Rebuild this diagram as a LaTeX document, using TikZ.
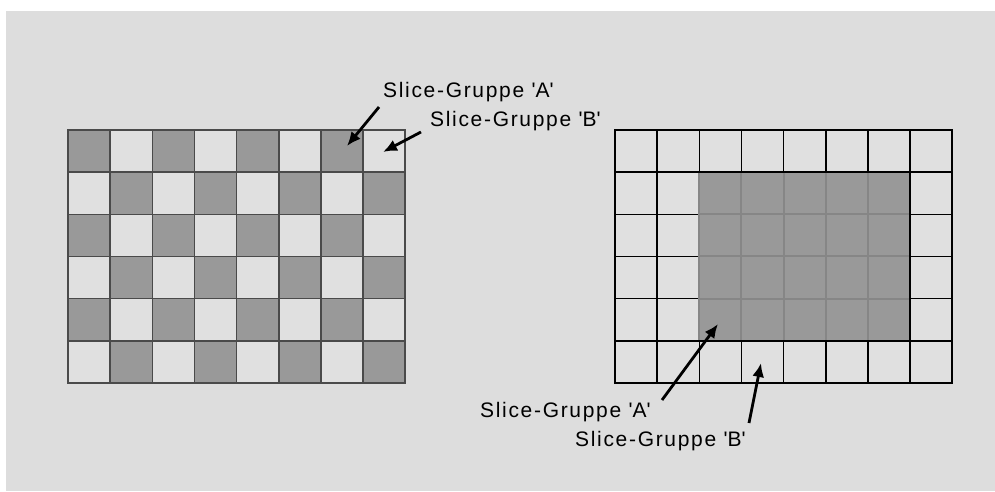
\documentclass[tikz,border=0pt]{standalone}
\usepackage{fontspec}
\setmainfont[LetterSpace=8]{Liberation Sans}
\usetikzlibrary{arrows.meta}
\definecolor{bg}{HTML}{DDDDDD}
\definecolor{cellA}{HTML}{999999}
\definecolor{cellB}{HTML}{E0E0E0}
\definecolor{gridL}{HTML}{4A4A4A}
\definecolor{gridI}{HTML}{868686}
\newcommand{\sq}{\textquotesingle}
\begin{document}
\begin{tikzpicture}[x=1pt,y=-1pt,
  lbl/.style={font=\fontsize{21}{24}\selectfont, inner sep=0pt, anchor=west},
  arr/.style={line width=2.8pt, -{Latex[length=14pt,width=12pt]}},
  gline/.style={line width=1.6pt, line cap=rect},
  iline/.style={line width=2.0pt, gridI}]
\def\cs{42.15}
\useasboundingbox (0,0) rectangle (995,491);
\fill[white] (0,0) rectangle (995,491);
\fill[bg] (6,11) rectangle (995,491);
% left grid: checkerboard
\foreach \i in {0,...,7}{\foreach \j in {0,...,5}{
  \pgfmathtruncatemacro\p{mod(\i+\j,2)}
  \ifnum\p=0 \def\cc{cellA}\else\def\cc{cellB}\fi
  \fill[\cc] ({68+\i*\cs},{130+\j*\cs}) rectangle ++(\cs,\cs);
}}
\foreach \i in {0,...,8}{\draw[gline,gridL] ({68+\i*\cs},130) -- ({68+\i*\cs},{130+6*\cs});}
\foreach \j in {0,...,6}{\draw[gline,gridL] (68,{130+\j*\cs}) -- ({68+8*\cs},{130+\j*\cs});}
% right grid
\fill[cellB] (615,130) rectangle ({615+8*\cs},{130+6*\cs});
\foreach \i in {0,...,8}{\draw[gline,black] ({615+\i*\cs},130) -- ({615+\i*\cs},{130+6*\cs});}
\foreach \j in {0,...,6}{\draw[gline,black] (615,{130+\j*\cs}) -- ({615+8*\cs},{130+\j*\cs});}
\fill[cellA] ({615+2*\cs},{130+\cs+0.8}) rectangle ({615+7*\cs-0.8},{130+5*\cs-0.8});
\foreach \i in {2,...,6}{\draw[iline] ({615+\i*\cs},{130+\cs+0.8}) -- ({615+\i*\cs},{130+5*\cs-0.8});}
\foreach \j in {2,...,4}{\draw[iline] ({615+2*\cs},{130+\j*\cs}) -- ({615+7*\cs-0.8},{130+\j*\cs});}
% labels
\node[lbl] (la1) at (383,92) {Slice-Gruppe \sq A\sq};
\node[lbl] (lb1) at (430,121) {Slice-Gruppe \sq B\sq};
\node[lbl] (la2) at (480,412) {Slice-Gruppe \sq A\sq};
\node[lbl] (lb2) at (575,441) {Slice-Gruppe \sq B\sq};
% arrows
\coordinate (ta1) at (379,107); \coordinate (ha1) at (347,146);
\coordinate (tb1) at (421,132); \coordinate (hb1) at (383,152);
\coordinate (ta2) at (662,400); \coordinate (ha2) at (718,324);
\coordinate (tb2) at (749,423); \coordinate (hb2) at (761,363);
\draw[arr] (ta1) -- (ha1);
\draw[arr] (tb1) -- (hb1);
\draw[arr] (ta2) -- (ha2);
\draw[arr] (tb2) -- (hb2);
\end{tikzpicture}
\end{document}
